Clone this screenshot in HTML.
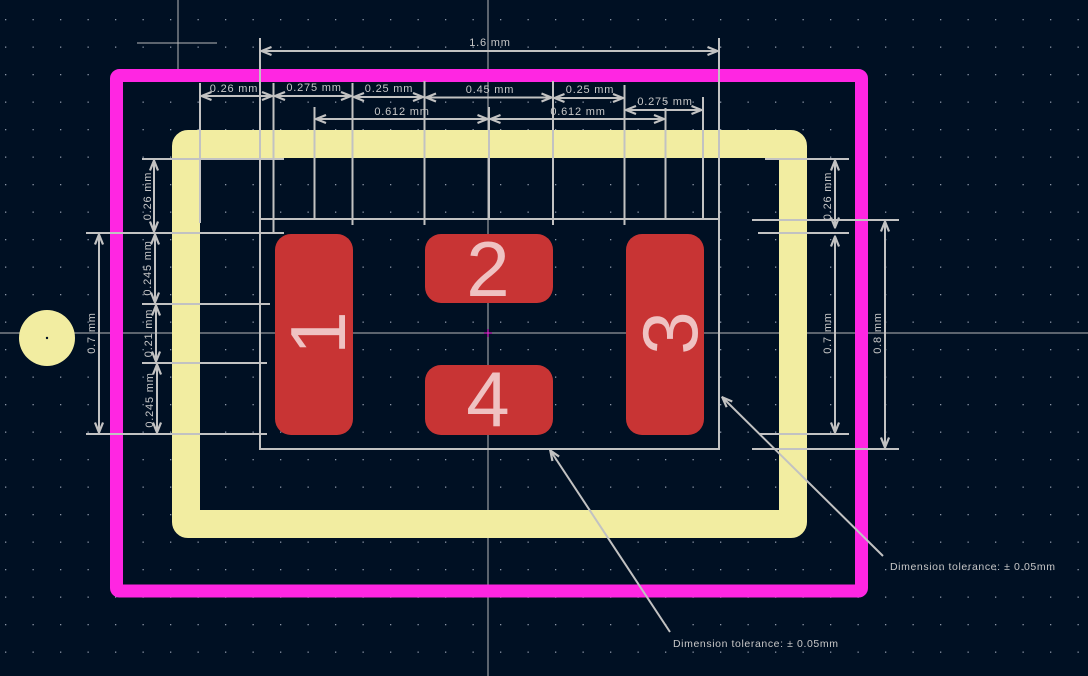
<!DOCTYPE html>
<html><head><meta charset="utf-8"><style>
html,body{margin:0;padding:0;background:#001023;}
svg{display:block}
text{font-family:"Liberation Sans",sans-serif;}
</style></head><body>
<svg width="1088" height="676" viewBox="0 0 1088 676" xmlns="http://www.w3.org/2000/svg">
<defs>
<pattern id="g" x="5" y="19" width="27.5" height="27.5" patternUnits="userSpaceOnUse">
<rect x="0" y="0" width="1.3" height="1.3" fill="#8a95a5"/>
</pattern>
<marker id="a" viewBox="0 0 12 10" refX="11.5" refY="5" markerWidth="12" markerHeight="10" markerUnits="userSpaceOnUse" orient="auto-start-reverse">
<path d="M1,1 L11,5 L1,9" fill="none" stroke="#c2c2c2" stroke-width="2.2"/>
</marker>
</defs>
<rect width="1088" height="676" fill="#001023"/>
<rect width="1088" height="676" fill="url(#g)"/>
<g stroke="#b8b8b8" stroke-width="1">
<line x1="488" y1="0" x2="488" y2="676"/>
<line x1="0" y1="333" x2="1088" y2="333"/>
<line x1="137" y1="43" x2="217" y2="43"/>
<line x1="178" y1="0" x2="178" y2="70"/>
</g>
<rect x="116.5" y="75.5" width="745" height="515.5" fill="none" stroke="#ff26e2" stroke-width="13" rx="3"/>
<rect x="186" y="144" width="607" height="380" fill="none" stroke="#f2eda1" stroke-width="28" stroke-linejoin="round" rx="2"/>
<circle cx="47" cy="338" r="28" fill="#f2eda1"/>
<circle cx="47" cy="338" r="1.2" fill="#001023"/>
<g fill="#c83434">
<rect x="275" y="234" width="78" height="201" rx="16"/>
<rect x="425" y="234" width="128" height="69" rx="16"/>
<rect x="425" y="365" width="128" height="70" rx="16"/>
<rect x="626" y="234" width="78" height="201" rx="16"/>
</g>
<g fill="#efc2c2" font-size="78">
<text x="488" y="296" text-anchor="middle">2</text>
<text x="488" y="426" text-anchor="middle">4</text>
<text transform="translate(345,333) rotate(-90)" text-anchor="middle" y="0">1</text>
<text transform="translate(697,333) rotate(-90)" text-anchor="middle" y="0">3</text>
</g>
<path d="M484,333h8M488,329v8" stroke="#ff26e2" stroke-width="1"/>
<rect x="260" y="219" width="459" height="230" fill="none" stroke="#c2c2c2" stroke-width="2"/>
<g stroke="#c2c2c2" stroke-width="2" fill="none">
<line x1="260" y1="38" x2="260" y2="219"/>
<line x1="719" y1="38" x2="719" y2="219"/>
<line x1="200" y1="83" x2="200" y2="223"/>
<line x1="273.5" y1="83" x2="273.5" y2="232"/>
<line x1="352.5" y1="83" x2="352.5" y2="225"/>
<line x1="424.5" y1="81" x2="424.5" y2="225"/>
<line x1="553" y1="81" x2="553" y2="225"/>
<line x1="624.5" y1="85" x2="624.5" y2="225"/>
<line x1="665.5" y1="108" x2="665.5" y2="219"/>
<line x1="703" y1="97" x2="703" y2="219"/>
<line x1="314.5" y1="107" x2="314.5" y2="219"/>
<line x1="489" y1="107" x2="489" y2="219"/>
<line x1="261" y1="51" x2="718" y2="51" marker-start="url(#a)" marker-end="url(#a)"/>
<line x1="201" y1="96" x2="272.5" y2="96" marker-start="url(#a)" marker-end="url(#a)"/>
<line x1="274.5" y1="96" x2="351.5" y2="96" marker-start="url(#a)" marker-end="url(#a)"/>
<line x1="353.5" y1="97" x2="423.5" y2="97" marker-start="url(#a)" marker-end="url(#a)"/>
<line x1="425.5" y1="97.5" x2="552" y2="97.5" marker-start="url(#a)" marker-end="url(#a)"/>
<line x1="554" y1="98" x2="623.5" y2="98" marker-start="url(#a)" marker-end="url(#a)"/>
<line x1="625.5" y1="110" x2="702" y2="110" marker-start="url(#a)" marker-end="url(#a)"/>
<line x1="315.5" y1="119" x2="488" y2="119" marker-start="url(#a)" marker-end="url(#a)"/>
<line x1="490" y1="119" x2="664.5" y2="119" marker-start="url(#a)" marker-end="url(#a)"/>
<line x1="142" y1="159" x2="284" y2="159"/>
<line x1="86" y1="233" x2="284" y2="233"/>
<line x1="142" y1="304" x2="270" y2="304"/>
<line x1="142" y1="363" x2="267" y2="363"/>
<line x1="86" y1="434" x2="267" y2="434"/>
<line x1="154" y1="160" x2="154" y2="232" marker-start="url(#a)" marker-end="url(#a)"/>
<line x1="155" y1="234" x2="155" y2="303" marker-start="url(#a)" marker-end="url(#a)"/>
<line x1="156" y1="305" x2="156" y2="362" marker-start="url(#a)" marker-end="url(#a)"/>
<line x1="157" y1="364" x2="157" y2="433" marker-start="url(#a)" marker-end="url(#a)"/>
<line x1="99" y1="234" x2="99" y2="433" marker-start="url(#a)" marker-end="url(#a)"/>
<line x1="765" y1="159" x2="849" y2="159"/>
<line x1="752" y1="220" x2="899" y2="220"/>
<line x1="758" y1="233" x2="849" y2="233"/>
<line x1="760" y1="434" x2="849" y2="434"/>
<line x1="752" y1="449" x2="899" y2="449"/>
<line x1="835" y1="160" x2="835" y2="228" marker-start="url(#a)" marker-end="url(#a)"/>
<line x1="835" y1="236" x2="835" y2="433" marker-start="url(#a)" marker-end="url(#a)"/>
<line x1="885" y1="221" x2="885" y2="448" marker-start="url(#a)" marker-end="url(#a)"/>
<line x1="883" y1="556" x2="722" y2="397" marker-end="url(#a)"/>
<line x1="670" y1="632" x2="550" y2="450" marker-end="url(#a)"/>
</g>
<g fill="#c8c8c8" font-size="11" letter-spacing="0.8">
<text x="490" y="46" text-anchor="middle">1.6 mm</text>
<text x="234" y="92" text-anchor="middle">0.26 mm</text>
<text x="314" y="91" text-anchor="middle">0.275 mm</text>
<text x="389" y="92" text-anchor="middle">0.25 mm</text>
<text x="490" y="93" text-anchor="middle">0.45 mm</text>
<text x="590" y="93" text-anchor="middle">0.25 mm</text>
<text x="665" y="105" text-anchor="middle">0.275 mm</text>
<text x="402" y="115" text-anchor="middle">0.612 mm</text>
<text x="578" y="115" text-anchor="middle">0.612 mm</text>
<text transform="translate(151,196) rotate(-90)" text-anchor="middle">0.26 mm</text>
<text transform="translate(151,268) rotate(-90)" text-anchor="middle">0.245 mm</text>
<text transform="translate(152,333) rotate(-90)" text-anchor="middle">0.21 mm</text>
<text transform="translate(153,400) rotate(-90)" text-anchor="middle">0.245 mm</text>
<text transform="translate(95,333) rotate(-90)" text-anchor="middle">0.7 mm</text>
<text transform="translate(831,196) rotate(-90)" text-anchor="middle">0.26 mm</text>
<text transform="translate(831,333) rotate(-90)" text-anchor="middle">0.7 mm</text>
<text transform="translate(881,333) rotate(-90)" text-anchor="middle">0.8 mm</text>
<text x="890" y="570" font-size="10.5" letter-spacing="0.6">Dimension tolerance: ± 0.05mm</text>
<text x="673" y="647" font-size="10.5" letter-spacing="0.6">Dimension tolerance: ± 0.05mm</text>
</g>
</svg>
</body></html>
